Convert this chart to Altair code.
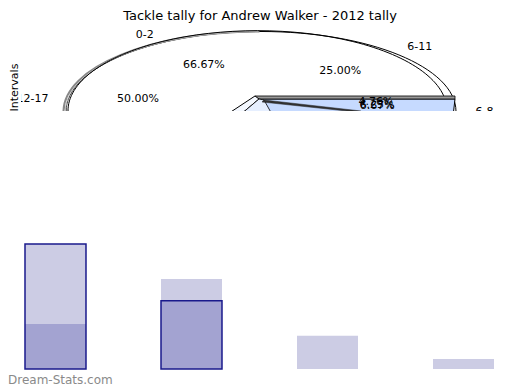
import math
import altair as alt
import pandas as pd

# ---------------- data ----------------
TITLE = "Tackle tally for Andrew Walker - 2012 tally"
AXIS_TITLE = "Intervals"
WATERMARK = "Dream-Stats.com"

# pie (3D, several overlaid slices): labels and slice mid-angles (degrees)
outer_labels = ["0-2", "6-11", "12-17", "6-8"]
outer_angles = [120, 47, 172, 0]
pct_labels = ["66.67%", "25.00%", "50.00%"]
pct_angles = [116.8, 51.3, 166]
small_pct_labels = ["4.76%", "6.25%", "6.67%"]
small_pct_angles = [11, 7.2, 6.8]

# bars
bar_cats = ["0-2", "6-8", "6-11", "12-17"]
bar_total = [15.0, 10.8, 4.0, 1.2]
bar_part = [5.4, 8.2, 0.0, 0.0]
bar_outline = [15.0, 8.2, 0.0, 0.0]

# ---------------- layout constants ----------------
FONT = "DejaVu Sans"
PAD_TOP = 2
L = 21.0                 # page x of plot left
T = 26.0 + PAD_TOP       # page y of pie panel top
BOTTOM = 112.0           # page y where the pie panel is cut
CX, CY = 261.0, 112.5    # pie centre on page
A, B = 195.0, 80.0       # ellipse semi axes (px)
PIE_W, PIE_H = 491, int(BOTTOM - T)
BAR_W, BAR_H = 477, 125
LABEL_R, PCT_R, SMALL_PCT_R = 1.1, 0.65, 0.6

xs = alt.Scale(domain=[-(CX - L) / A, (L + PIE_W - CX) / A], nice=False, zero=False)
ys = alt.Scale(domain=[-(BOTTOM - CY) / B, (CY - T) / B], nice=False, zero=False)

r = B / A


def ell(off, a):
    a = a / A
    o = off / A
    return (f"M {o - a:.4f} 0 A {a:.4f} {r:.4f} 0 1 1 {o + a:.4f} 0 "
            f"A {a:.4f} {r:.4f} 0 1 1 {o - a:.4f} 0 Z")


def left_arc(off, a):
    a = a / A
    o = off / A
    return f"M {o:.4f} {-r:.4f} A {a:.4f} {r:.4f} 0 0 0 {o:.4f} {r:.4f}"


def poly(pts):
    return "M " + " L ".join(f"{x / A:.4f} {y / A:.4f}" for x, y in pts) + " Z"


SIZE = (2 * A) ** 2
centre = pd.DataFrame({"x": [0.0], "y": [0.0]})


def sym(path, **kw):
    return alt.Chart(centre).mark_point(shape=path, size=SIZE, clip=True, opacity=1, **kw).encode(
        x=alt.X("x:Q", scale=xs, axis=None),
        y=alt.Y("y:Q", scale=ys, title=AXIS_TITLE),
    )


e1 = sym(ell(0, A), filled=True, fill="white", stroke="black", strokeWidth=1)
g1 = sym(left_arc(-1.5, 196), filled=False, stroke="#888888", strokeWidth=2)
g2 = sym(left_arc(-2.5, 193), filled=False, stroke="#bbbbbb", strokeWidth=1)
e2 = sym(ell(-3.5, 189.5), filled=False, stroke="black", strokeWidth=1)

slab = sym(poly([(-6, -12.5), (194, -12.5), (192, 5), (-6, 5)]),
           filled=True, fill="#c6daff", stroke="black", strokeWidth=1)
slab_top = sym(poly([(-6, -15.5), (194, -15.5), (194, -12.5), (-6, -12.5)]),
               filled=True, fill="#999999", stroke="black", strokeWidth=0.8)
wedge = sym(poly([(-6, -15.5), (-31, 1), (-18, 1), (-2, -12.5)]),
            filled=True, fill="#f4f8ff", stroke="black", strokeWidth=1)
inner = sym(poly([(-2, -12.5), (-18, 1), (10, 1), (3, -11.5)]),
            filled=True, fill="#e6efff", stroke="black", strokeWidth=0.8)
sliver = sym(poly([(3, -11.5), (100, -0.5), (100, 1), (1, -9.5)]),
             filled=True, fill="#333333", stroke="#222222", strokeWidth=0.5)


def label_df(labels, angles, rad):
    return pd.DataFrame({
        "label": labels,
        "x": [rad * math.cos(math.radians(a)) for a in angles],
        "y": [rad * math.sin(math.radians(a)) for a in angles],
        "side": ["right" if math.cos(math.radians(a)) < 0 else "left" for a in angles],
    })


def texts(df, align=None):
    kw = {} if align is None else {"align": align}
    return alt.Chart(df).mark_text(font=FONT, fontSize=11, color="black", clip=True, **kw).encode(
        x=alt.X("x:Q", scale=xs, axis=None),
        y=alt.Y("y:Q", scale=ys, title=AXIS_TITLE),
        text="label:N",
    )


odf = label_df(outer_labels, outer_angles, LABEL_R)
outer_left = texts(odf[odf.side == "right"], "right")
outer_right = texts(odf[odf.side == "left"], "left")
pct_t = texts(label_df(pct_labels, pct_angles, PCT_R))
small_t = texts(label_df(small_pct_labels, small_pct_angles, SMALL_PCT_R))

pie = alt.layer(e1, g1, g2, e2, slab, slab_top, wedge, inner, sliver,
                pct_t, small_t, outer_left, outer_right).properties(width=PIE_W, height=PIE_H)

bars_df = pd.DataFrame({
    "cat": bar_cats, "total": bar_total, "part": bar_part, "outline": bar_outline,
})
xb = alt.X("cat:N", sort=bar_cats, axis=None,
           scale=alt.Scale(paddingInner=0.5515, paddingOuter=0.0294))
ysb = alt.Scale(domain=[0, 15], nice=False)
base = alt.Chart(bars_df)
light = base.mark_bar(color="#ccccE4").encode(x=xb, y=alt.Y("total:Q", scale=ysb, axis=None))
dark = base.mark_bar(color="#a3a3d1").encode(x=xb, y=alt.Y("part:Q", scale=ysb, axis=None))
outl = base.transform_filter("datum.outline > 0").mark_bar(
    fill=None, stroke="#1a1a8c", strokeWidth=1.5
).encode(x=xb, y=alt.Y("outline:Q", scale=ysb, axis=None))
wm = alt.Chart(pd.DataFrame({"t": [WATERMARK]})).mark_text(
    font=FONT, fontSize=12, color="#8a8a8a", align="left", baseline="middle"
).encode(text="t:N", x=alt.value(-13), y=alt.value(BAR_H + 11))

bars = alt.layer(light, dark, outl, wm).properties(width=BAR_W, height=BAR_H)

chart = alt.vconcat(pie, bars, spacing=int(244 - BOTTOM)).properties(
    title=alt.TitleParams(TITLE, anchor="middle", fontSize=13, font=FONT,
                          fontWeight="normal", color="black", offset=4),
    padding={"left": 0, "right": 0, "top": PAD_TOP, "bottom": 0},
).configure_view(stroke=None).configure_axisY(
    labels=False, ticks=False, domain=False, grid=False,
    titleFont=FONT, titleFontSize=11, titleFontWeight="normal",
    titleColor="black", titlePadding=2, titleAnchor="start",
)

chart.save("out.html", embed_options={"renderer": "svg", "actions": False})
